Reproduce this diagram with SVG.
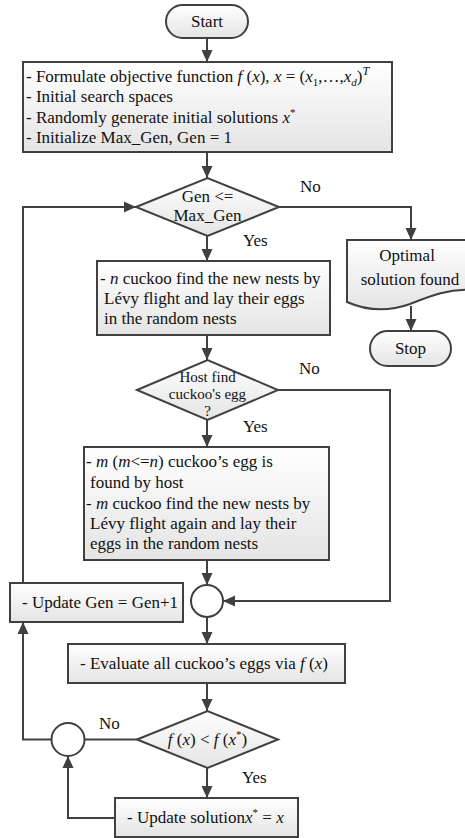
<svg xmlns="http://www.w3.org/2000/svg" width="465" height="838" viewBox="0 0 465 838">
<defs>
<linearGradient id="g" x1="0" y1="0" x2="0" y2="1">
<stop offset="0" stop-color="#ffffff"/>
<stop offset="1" stop-color="#e4e4e4"/>
</linearGradient>
<marker id="ah" markerUnits="userSpaceOnUse" markerWidth="12" markerHeight="12" refX="12" refY="6" orient="auto">
<path d="M0,0.5 L12,6 L0,11.5 z" fill="#404040"/>
</marker>
</defs>
<style>
.s{fill:url(#g);stroke:#404040;stroke-width:2}
.c{fill:#ffffff;stroke:#404040;stroke-width:2}
.t{font-family:"Liberation Serif","Times New Roman",serif;font-size:17px;fill:#111}
.d{font-size:15px}
.m{text-anchor:middle}
.i{font-style:italic}
.l{fill:none;stroke:#404040;stroke-width:2}
.a{marker-end:url(#ah)}
</style>
<rect width="465" height="838" fill="#ffffff"/>

<g id="connectors">
<path class="l a" d="M207,38 V62"/>
<path class="l a" d="M207,152 V178"/>
<path class="l a" d="M279,207 H411 V240"/>
<path class="l a" d="M207,236 V261"/>
<path class="l a" d="M411,306 V331"/>
<path class="l a" d="M207,335 V360"/>
<path class="l a" d="M278,390 H390 V601 H223"/>
<path class="l a" d="M207,420 V447"/>
<path class="l a" d="M207,560 V585"/>
<path class="l a" d="M207,617 V644"/>
<path class="l a" d="M207,683 V711"/>
<path class="l a" d="M207,768 V798"/>
<path class="l" d="M137,739.5 H84.5"/>
<path class="l a" d="M51.5,739.5 H23 V622"/>
<path class="l a" d="M23,583 V207 H136"/>
<path class="l a" d="M115,818 H68 V756"/>
<text class="t" x="300" y="192">No</text>
<text class="t" x="243" y="246">Yes</text>
<text class="t" x="299" y="374">No</text>
<text class="t" x="243" y="432">Yes</text>
<text class="t" x="99" y="729">No</text>
<text class="t" x="242" y="783">Yes</text>
</g>

<g id="start">
<rect class="s" x="166" y="5" width="82" height="33" rx="16.5"/>
<text class="t m" x="207" y="27">Start</text>
</g>

<g id="init">
<rect class="s" x="23" y="62" width="369" height="90"/>
<text class="t" x="26" y="82">- Formulate objective function <tspan class="i">f</tspan> (<tspan class="i">x</tspan>), <tspan class="i">x</tspan> = (<tspan class="i">x</tspan><tspan font-size="11" dy="4">1</tspan><tspan dy="-4">,…,</tspan><tspan class="i">x</tspan><tspan font-size="11" dy="4" class="i">d</tspan><tspan dy="-4">)</tspan><tspan font-size="12" dy="-7" class="i">T</tspan></text>
<text class="t" x="26" y="102">- Initial search spaces</text>
<text class="t" x="26" y="123">- Randomly generate initial solutions <tspan class="i">x</tspan><tspan font-size="11" dy="-7">*</tspan></text>
<text class="t" x="26" y="143">- Initialize Max_Gen, Gen = 1</text>
</g>

<g id="cond-gen">
<path class="s" d="M136,207 L207.5,178 L279,207 L207.5,236 z"/>
<text class="t m" x="207.5" y="202">Gen &lt;=</text>
<text class="t m" x="207.5" y="221">Max_Gen</text>
</g>

<g id="optimal">
<path class="s" d="M347,240 H474 V290 C450,288 430,296 410,304 C385,313 365,310 347,302 z"/>
<text class="t m" x="407" y="261">Optimal</text>
<text class="t m" x="410" y="285">solution found</text>
</g>

<g id="stop">
<rect class="s" x="370" y="331" width="81" height="35" rx="17.5"/>
<text class="t m" x="410.5" y="354">Stop</text>
</g>

<g id="levy">
<rect class="s" x="97" y="261" width="233" height="74"/>
<text class="t" x="100" y="284">- <tspan class="i">n</tspan> cuckoo find the new nests by</text>
<text class="t" x="104" y="304">Lévy flight and lay their eggs</text>
<text class="t" x="104" y="324">in the random nests</text>
</g>

<g id="cond-host">
<path class="s" d="M137,390 L207.5,360 L278,390 L207.5,420 z"/>
<text class="t d m" x="207.5" y="382">Host find</text>
<text class="t d m" x="207.5" y="399">cuckoo's egg</text>
<text class="t d m" x="207.5" y="416">?</text>
</g>

<g id="abandon">
<rect class="s" x="84" y="447" width="245" height="113"/>
<text class="t" x="86" y="467">- <tspan class="i">m</tspan> (<tspan class="i">m</tspan>&lt;=<tspan class="i">n</tspan>) cuckoo’s egg is</text>
<text class="t" x="90" y="488">found by host</text>
<text class="t" x="86" y="509">- <tspan class="i">m</tspan> cuckoo find the new nests by</text>
<text class="t" x="90" y="529">Lévy flight again and lay their</text>
<text class="t" x="90" y="549">eggs in the random nests</text>
</g>

<g id="merge1">
<circle class="c" cx="207" cy="601" r="16"/>
</g>

<g id="update-gen">
<rect class="s" x="10" y="583" width="173" height="39"/>
<text class="t" x="22" y="608">- Update Gen = Gen+1</text>
</g>

<g id="evaluate">
<rect class="s" x="68" y="644" width="277" height="39"/>
<text class="t" x="80" y="669">- Evaluate all cuckoo’s eggs via <tspan class="i">f</tspan> (<tspan class="i">x</tspan>)</text>
</g>

<g id="cond-better">
<path class="s" d="M137,739.5 L207.5,711 L278,739.5 L207.5,768 z"/>
<text class="t m" x="207.5" y="745"><tspan class="i">f</tspan> (<tspan class="i">x</tspan>) &lt; <tspan class="i">f</tspan> (<tspan class="i">x</tspan><tspan font-size="11" dy="-7">*</tspan><tspan dy="7">)</tspan></text>
</g>

<g id="merge2">
<circle class="c" cx="68" cy="739.5" r="16.5"/>
</g>

<g id="update-sol">
<rect class="s" x="115" y="798" width="183" height="39"/>
<text class="t" x="127" y="823">- Update solution<tspan class="i">x</tspan><tspan font-size="11" dy="-7">*</tspan><tspan dy="7"> = </tspan><tspan class="i">x</tspan></text>
</g>
</svg>
